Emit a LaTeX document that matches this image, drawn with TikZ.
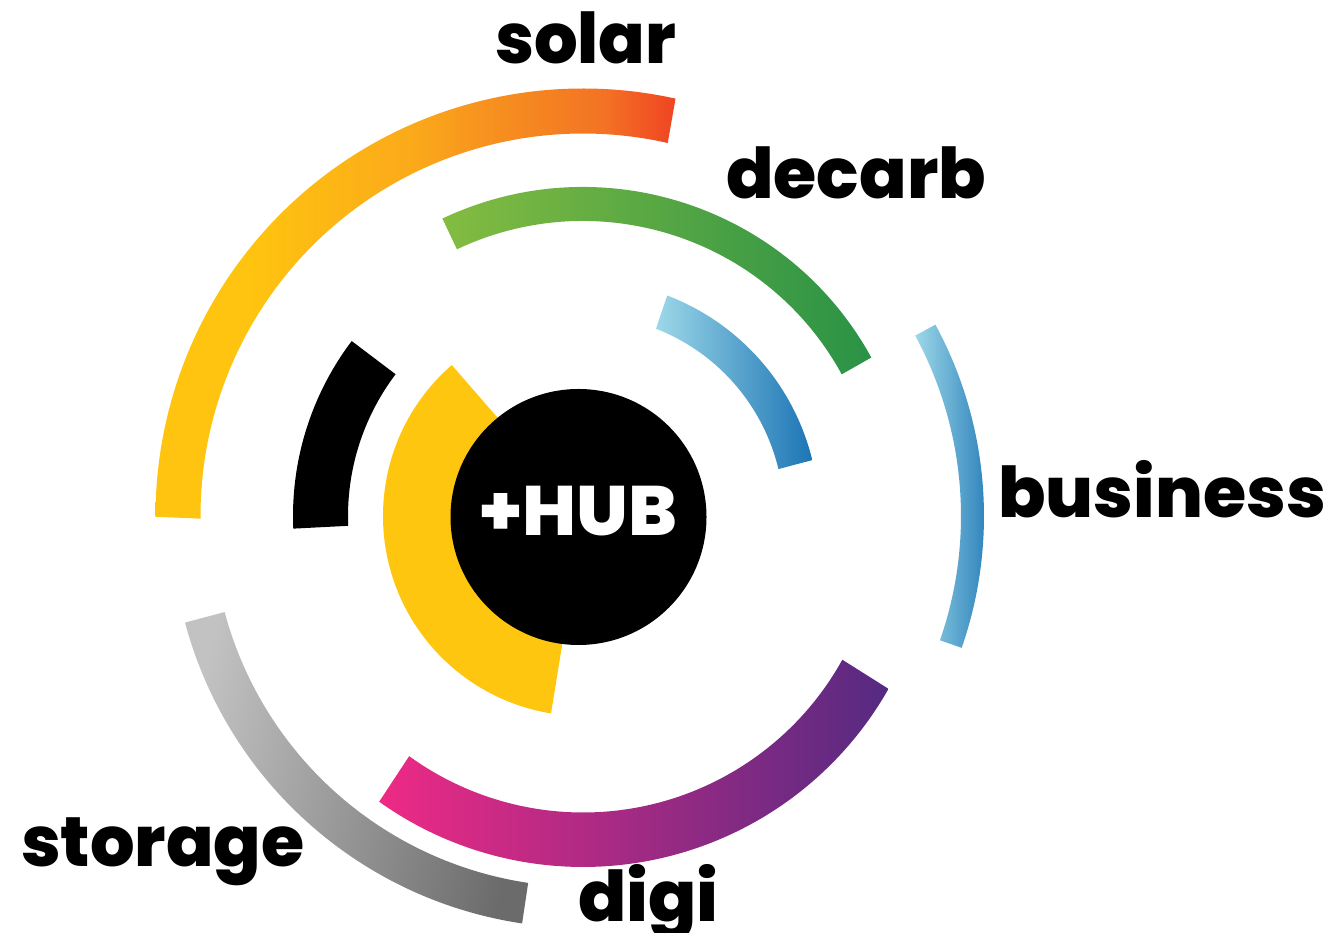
\documentclass[tikz,border=0pt]{standalone}
\usepackage{fontspec}
\setmainfont{Poppins}[BoldFont=*-ExtraBold]
\definecolor{sy}{HTML}{FFC40F}
\definecolor{so0}{HTML}{FBA91A}
\definecolor{so1}{HTML}{F7941E}
\definecolor{so2}{HTML}{F37324}
\definecolor{sr}{HTML}{F04423}
\definecolor{dl}{HTML}{84BC41}
\definecolor{dr}{HTML}{2A9246}
\definecolor{bl}{HTML}{9DD8E8}
\definecolor{br}{HTML}{1C75B5}
\definecolor{gl}{HTML}{EE2A85}
\definecolor{gr}{HTML}{552A82}
\definecolor{sl}{HTML}{C2C2C2}
\definecolor{sk}{HTML}{6B6B6B}
\definecolor{hy}{HTML}{FFC60F}
\pgfdeclarehorizontalshading{solarsh}{100bp}{color(0bp)=(sy); color(25bp)=(sy); color(34bp)=(sy); color(50bp)=(so0); color(56bp)=(so1); color(68bp)=(so2); color(75bp)=(sr); color(100bp)=(sr)}
% inner radius, outer radius, outer start/end angle, inner start/end angle
\newcommand{\ringpath}[6]{(#3:#2) arc[start angle=#3,end angle=#4,radius=#2] -- (#6:#1) arc[start angle=#6,end angle=#5,radius=#1] -- cycle}
\tikzset{
  lab/.style={font=\bfseries\fontsize{70}{70}\selectfont,anchor=base west,inner sep=0pt,text=black},
  ctr/.style={shift={(583,417)}}
}
\begin{document}
\begin{tikzpicture}[x=1pt,y=1pt]
\useasboundingbox (0,0) rectangle (1331,933);
\begin{scope}[ctr]
\shade[shading=solarsh] \ringpath{382.5}{427.5}{77.5}{180.1}{77.2}{180.4};
\shade[left color=dl,right color=dr] \ringpath{295}{329}{28.8}{115.3}{28.7}{115.3};
\shade[left color=bl,right color=br] \ringpath{201}{236}{13.7}{69.1}{13.5}{68.7};
\shade[left color=bl,right color=br] \ringpath{378}{401}{-19.2}{28.5}{-19.2}{28.5};
\shade[left color=gl,right color=gr] \ringpath{296.5}{351}{-125.5}{-29.5}{-125.9}{-29};
\shade[left color=sl,right color=sk,shading angle=78] \ringpath{371}{412}{195}{261.5}{195}{261.5};
\fill[black] \ringpath{235}{290}{142.9}{182.5}{142.9}{182.4};
\end{scope}
\fill[hy,shift={(583,417)}] (0,0) -- (131:200) arc[start angle=131,end angle=260.8,radius=200] -- cycle;
\node[circle,fill=black,minimum size=256pt,inner sep=0pt] (hub) at (578.5,416) {};
\node[lab,text=white] (hubt) at (479,397) {\scalebox{1.04}[1]{+HUB}};
\node[lab] (solar) at (495,869) {\scalebox{0.98}[1]{solar}};
\node[lab] (decarb) at (726,734) {decarb};
\node[lab] (business) at (998,415) {business};
\node[lab] (storage) at (21,66) {storage};
\node[lab] (digi) at (578,11) {\scalebox{1.015}[1]{digi}};
\end{tikzpicture}
\end{document}
